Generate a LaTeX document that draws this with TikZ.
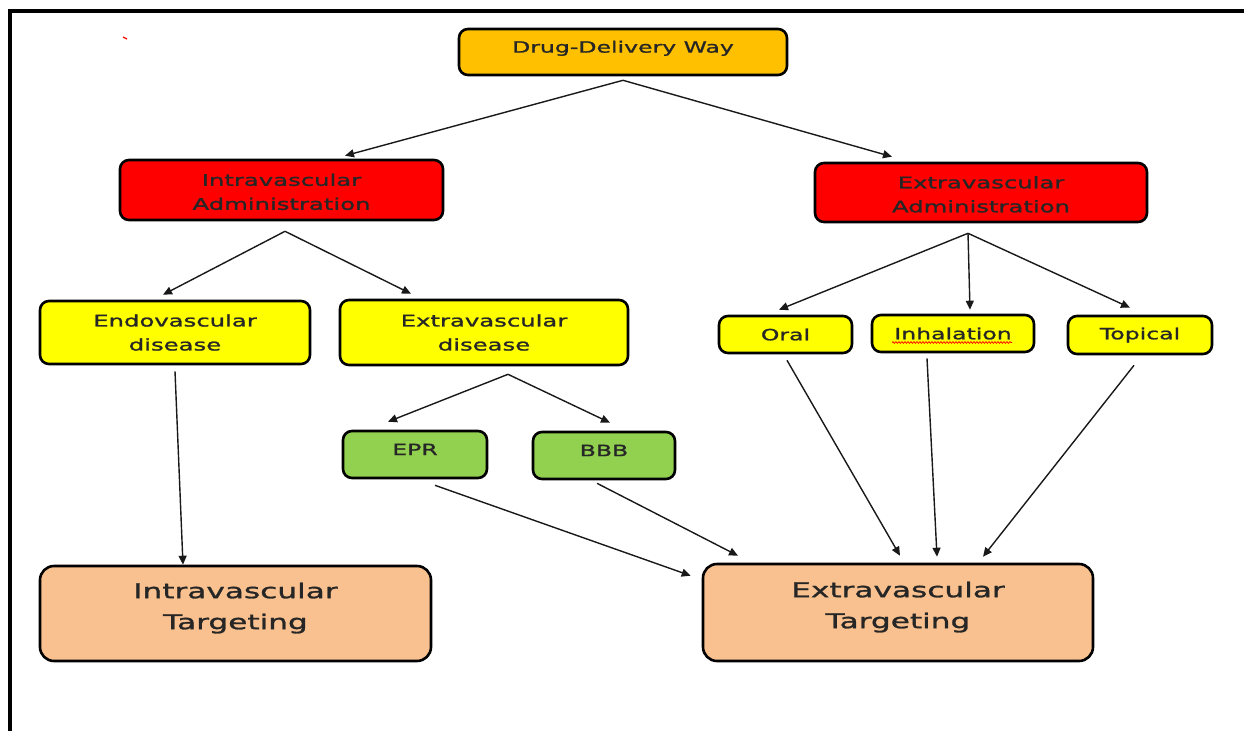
\documentclass[tikz,border=0pt]{standalone}
\usepackage{fontspec}
\newfontfamily\wfont[FakeStretch=1.52,FakeBold=1.3]{DejaVu Sans}
\usetikzlibrary{arrows.meta,calc,decorations.pathmorphing}
\definecolor{orangeb}{HTML}{FFC000}
\definecolor{redb}{HTML}{FF0000}
\definecolor{yellowb}{HTML}{FFFF00}
\definecolor{greenb}{HTML}{92D050}
\definecolor{peach}{HTML}{F9C18F}
\definecolor{txt}{HTML}{262626}
\newcommand{\shifttxt}[2]{\raisebox{#1}[\height][\depth]{\begin{tabular}{@{}c@{}}#2\end{tabular}}}
\begin{document}
\begin{tikzpicture}[x=1pt,y=-1pt,
  box/.style={draw=black, line width=2.6pt, rounded corners=9pt, inner sep=0pt, align=center, text=txt},
  fs/.style={font=\wfont\fontsize{15.5}{18}\selectfont},
  fm/.style={font=\wfont\fontsize{16}{24}\selectfont},
  fl/.style={font=\wfont\fontsize{20.5}{31}\selectfont, rounded corners=14pt},
  arr/.style={-{Triangle[length=9pt,width=8pt]}, line width=1.4pt, draw=black!90}]
\useasboundingbox (0,0) rectangle (1244,731);
\fill[white] (0,0) rectangle (1244,731);
\draw[line width=4.5pt] (10,731) -- (10,11) -- (1244,11);
\draw[red, line width=1.2pt] (123,37) -- (127,39);

\node[box, fs, fill=orangeb, minimum width=328pt, minimum height=46pt] (drug) at (623,52) {\shifttxt{3pt}{Drug-Delivery Way}};
\node[box, fm, fill=redb, minimum width=323pt, minimum height=60pt] (intra) at (281.5,190) {\shifttxt{-3pt}{Intravascular\\Administration}};
\node[box, fm, fill=redb, minimum width=332pt, minimum height=59pt] (extra) at (981,192.5) {\shifttxt{-3pt}{Extravascular\\Administration}};
\node[box, fm, fill=yellowb, minimum width=270pt, minimum height=63pt] (endo) at (175,332.5) {Endovascular\\disease};
\node[box, fm, fill=yellowb, minimum width=288pt, minimum height=65pt] (exd) at (484,332.5) {Extravascular\\disease};
\node[box, fs, fill=yellowb, minimum width=133pt, minimum height=37pt] (oral) at (785.5,334.5) {Oral};
\node[box, fs, fill=yellowb, minimum width=162pt, minimum height=37pt] (inh) at (953,333.5) {Inhalation};
\node[box, fs, fill=yellowb, minimum width=144pt, minimum height=38pt] (top) at (1140,335) {Topical};
\node[box, fs, fill=greenb, minimum width=144pt, minimum height=47pt] (epr) at (415,454.5) {\shifttxt{3pt}{EPR}};
\node[box, fs, fill=greenb, minimum width=142pt, minimum height=47pt] (bbb) at (604,455.5) {\shifttxt{3pt}{BBB}};
\node[box, fl, fill=peach, minimum width=391pt, minimum height=95pt] (itarg) at (235.5,613.5) {\shifttxt{6pt}{Intravascular\\Targeting}};
\node[box, fl, fill=peach, minimum width=390pt, minimum height=97pt] (etarg) at (898,612.5) {\shifttxt{6pt}{Extravascular\\Targeting}};

\draw[red, line width=0.7pt, decorate, decoration={snake, amplitude=0.9pt, segment length=3pt}] ($(inh.center)+(-61,9)$) -- ($(inh.center)+(59,9)$);

\draw[arr] ($(drug.south)+(0,4)$) -- ($(intra.north)+(63.5,-3)$);
\draw[arr] ($(drug.south)+(0,4)$) -- ($(extra.north)+(-89,-5)$);
\draw[arr] ($(intra.south)+(3.5,10)$) -- ($(endo.north)+(-12,-5)$);
\draw[arr] ($(intra.south)+(3.5,10)$) -- ($(exd.north)+(-73,-5)$);
\draw[arr] ($(extra.south)+(-13,10)$) -- ($(oral.north)+(-6.5,-5)$);
\draw[arr] ($(extra.south)+(-13,10)$) -- ($(inh.north)+(17,-4)$);
\draw[arr] ($(extra.south)+(-13,10)$) -- ($(top.north)+(-10,-7)$);
\draw[arr] ($(endo.south)+(0,6)$) -- ($(itarg.north)+(-52.5,0)$);
\draw[arr] ($(exd.south)+(24,8)$) -- ($(epr.north)+(-27,-8)$);
\draw[arr] ($(exd.south)+(24,8)$) -- ($(bbb.north)+(6,-8)$);
\draw[arr] ($(epr.south)+(20,6)$) -- ($(etarg.north west)+(-11,13)$);
\draw[arr] ($(bbb.south)+(-7,3)$) -- ($(etarg.north)+(-160,-7)$);
\draw[arr] ($(oral.south)+(1.5,6)$) -- ($(etarg.north)+(2,-7)$);
\draw[arr] ($(inh.south)+(-26,5)$) -- ($(etarg.north)+(39,-6)$);
\draw[arr] ($(top.south)+(-6,10)$) -- ($(etarg.north)+(85,-6)$);
\end{tikzpicture}
\end{document}
